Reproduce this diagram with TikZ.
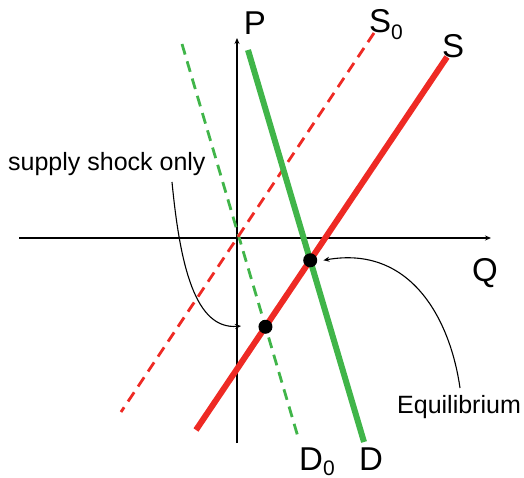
\documentclass[tikz,border=0pt]{standalone}
\usepackage{fontspec}
\setmainfont{Liberation Sans}
\usetikzlibrary{arrows.meta}
\definecolor{rojo}{HTML}{EE2A24}
\definecolor{verde}{HTML}{40B549}

\begin{document}
\begin{tikzpicture}[x=1pt,y=-1pt,
      eje/.style={-{Stealth[length=6pt,width=5pt]},line width=1.4pt},
      curva/.style={line width=6pt},
      previa/.style={line width=2.8pt,dash pattern=on 11pt off 7pt},
      etiqueta/.style={font=\fontsize{33}{33}\selectfont,inner sep=0pt,anchor=base},
      nota/.style={font=\fontsize{25}{25}\selectfont,inner sep=0pt,anchor=base west},
      punto/.style={circle,fill=black,inner sep=0pt,minimum size=14pt},
      rotulo/.style={-{Stealth[length=6pt,width=5pt]},line width=1.1pt}]
    \useasboundingbox (0,0) rectangle (524,478);
    % ejes
    \coordinate (pabajo) at (237,443);
    \coordinate (parriba) at (237,38);
    \coordinate (qizq) at (19,238);
    \coordinate (qder) at (491,238);
    \draw[eje] (pabajo) -- (parriba);
    \draw[eje] (qizq) -- (qder);
    \node[etiqueta] (p) at (255,35) {P};
    \node[etiqueta] (q) at (485,281) {Q};
    % curvas
    \coordinate (d0a) at (182,44);
    \coordinate (d0b) at (298,437);
    \coordinate (s0a) at (374,33);
    \coordinate (s0b) at (121,412);
    \coordinate (da) at (248,50);
    \coordinate (db) at (364,442);
    \coordinate (sa) at (447,57);
    \coordinate (sb) at (196,430);
    \draw[previa,verde] (d0a) -- (d0b);
    \draw[previa,rojo] (s0a) -- (s0b);
    \draw[curva,verde] (da) -- (db);
    \draw[curva,rojo] (sa) -- (sb);
    \node[etiqueta] (s0) at (386,33) {S\raisebox{-7pt}{\fontsize{21}{21}\selectfont 0}};
    \node[etiqueta] (s) at (453,58) {S};
    \node[etiqueta] (d0) at (317,470) {D\raisebox{-5pt}{\fontsize{21}{21}\selectfont 0}};
    \node[etiqueta] (d) at (371,470) {D};
    % equilibrios
    \node[punto] (eq) at (intersection of da--db and sa--sb) {};
    \node[punto] (sh) at (intersection of d0a--d0b and sa--sb) {};
    % rotulos
    \node[nota] (sso) at (8,171) {supply shock only};
    \node[nota] (equ) at (397,413) {Equilibrium};
    \coordinate (ssoa) at (172,182);
    \coordinate (ssob) at (241,326);
    \coordinate (equa) at (460,388);
    \draw[rotulo] (ssoa) .. controls (180,265) and (195,330) .. (ssob);
    \draw[rotulo] (equa) .. controls (450,318) and (410,245) .. ([xshift=6pt]eq.east);
  \end{tikzpicture}
\end{document}
